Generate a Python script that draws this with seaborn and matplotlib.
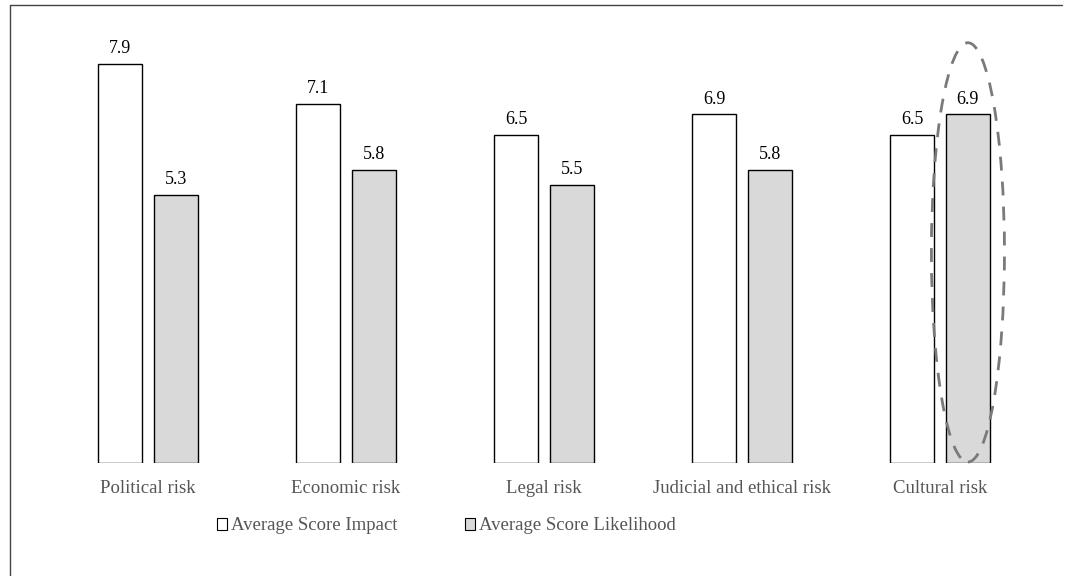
import matplotlib.pyplot as plt
from matplotlib.lines import Line2D
from matplotlib.patches import Ellipse, Patch
import seaborn as sns
import pandas as pd

categories = ["Political risk", "Economic risk", "Legal risk",
              "Judicial and ethical risk", "Cultural risk"]
impact = [7.9, 7.1, 6.5, 6.9, 6.5]
likelihood = [5.3, 5.8, 5.5, 5.8, 6.9]
series = ["Average Score Impact", "Average Score Likelihood"]

BAR_COLORS = ["#ffffff", "#d9d9d9"]
TEXT_COLOR = "#555555"
FONT = ["Liberation Serif", "DejaVu Serif"]

df = pd.DataFrame({
    "category": categories * 2,
    "series": [series[0]] * len(categories) + [series[1]] * len(categories),
    "score": impact + likelihood,
})

sns.set_style("white")
plt.rcParams["font.family"] = FONT

fig = plt.figure(figsize=(10.8, 5.76), dpi=100)
ax = fig.add_axes([30 / 1080, 1 - 463 / 576, 1030 / 1080, 443 / 576])

sns.barplot(data=df, x="category", y="score", hue="series",
            palette=BAR_COLORS, width=0.56, gap=0.2,
            edgecolor="black", linewidth=1, legend=False, ax=ax)

for cont in ax.containers:
    ax.bar_label(cont, fmt="%.1f", padding=5, fontsize=13, color="black")

ax.set_xlim(-0.596, 4.606)
ax.set_ylim(0, 8.77)
ax.set_xlabel("")
ax.set_ylabel("")
ax.set_yticks([])
ax.tick_params(axis="x", length=0, pad=12, labelsize=13.5, labelcolor=TEXT_COLOR)
for s in ax.spines.values():
    s.set_visible(False)

# dashed ellipse around the cultural risk likelihood bar
ax.add_patch(Ellipse((4.141, 4.17), 0.369, 8.3, fill=False,
                     edgecolor="#7a7a7a", linestyle=(0, (5, 4)),
                     linewidth=2, clip_on=False))

handles = [Patch(facecolor=c, edgecolor="black", linewidth=0.8) for c in BAR_COLORS]
leg = fig.legend(handles, series, loc="center left",
                 bbox_to_anchor=(200 / 1080, 1 - 526 / 576), ncol=2,
                 frameon=False, fontsize=13.5, handlelength=0.55, handleheight=0.6,
                 handletextpad=0.2, columnspacing=3.6)
for t in leg.get_texts():
    t.set_color(TEXT_COLOR)

# frame lines of the original figure box
fig.add_artist(Line2D([10 / 1080, 10 / 1080], [0, 1 - 5 / 576],
                      transform=fig.transFigure, color="#444444", linewidth=1))
fig.add_artist(Line2D([10 / 1080, 1062 / 1080], [1 - 5 / 576, 1 - 5 / 576],
                      transform=fig.transFigure, color="#444444", linewidth=1))

fig.savefig("out.png", dpi=100)
